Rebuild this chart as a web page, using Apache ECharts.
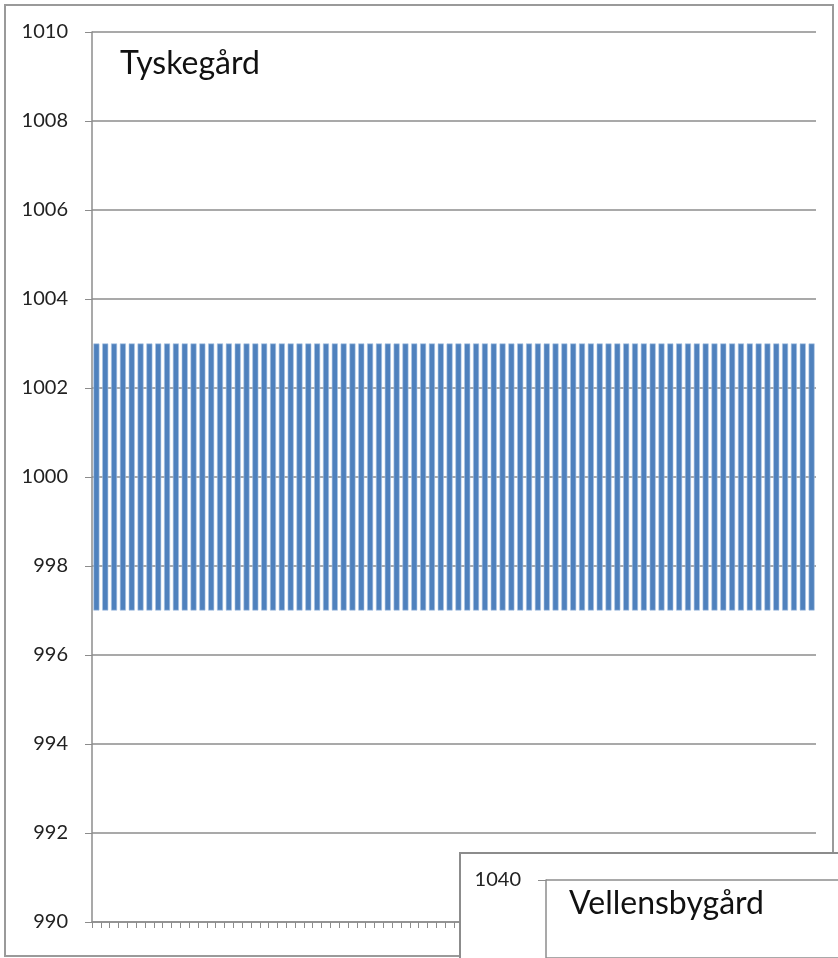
<!DOCTYPE html>
<html>
<head>
<meta charset="utf-8">
<script src="https://cdn.jsdelivr.net/npm/echarts@6/dist/echarts.min.js"></script>
<style>
  html, body { margin: 0; padding: 0; background: #fff; }
  #chart { width: 838px; height: 958px; }
</style>
</head>
<body>
<div id="chart"></div>
<script>
// Tyskegård: 82 floating bars, each spanning 997 -> 1003
const barCount = 82;
const categories = Array.from({ length: barCount }, (_, i) => String(i + 1));
const barLow = new Array(barCount).fill(997);
const barHigh = new Array(barCount).fill(1003);
const yMin = 990, yMax = 1010, yStep = 2;

// Vellensbygård (second chart, only its top corner is visible)
const y2Min = 1030, y2Max = 1040, y2Step = 10;

const barSpan = barHigh.map((h, i) => h - barLow[i]);

const font = 'Lato, "Open Sans", sans-serif';
const plain = v => String(v);
const chart = echarts.init(document.getElementById('chart'));

chart.setOption({
  animation: false,
  backgroundColor: '#fff',
  grid: [
    { left: 92, top: 32, right: 22, height: 890 },
    { left: 546, top: 880, right: -20, height: 82 }
  ],
  xAxis: [
    {
      gridIndex: 0, type: 'category', data: categories,
      axisLine: { lineStyle: { color: '#8c8c8c', width: 1.5 } },
      axisTick: { show: true, length: 6, interval: 0, lineStyle: { color: '#8c8c8c' } },
      axisLabel: { show: false }
    },
    { gridIndex: 1, type: 'value', min: 0, max: 1, show: false }
  ],
  yAxis: [
    {
      gridIndex: 0, type: 'value', min: yMin, max: yMax, interval: yStep,
      axisLine: { show: true, lineStyle: { color: '#8c8c8c', width: 1.5 } },
      axisTick: { show: true, length: 7, lineStyle: { color: '#8c8c8c' } },
      splitLine: { lineStyle: { color: '#8c8c8c', width: 1.5 } },
      axisLabel: { margin: 24, fontSize: 20, color: '#222', fontFamily: font, formatter: plain }
    },
    {
      gridIndex: 1, type: 'value', min: y2Min, max: y2Max, interval: y2Step, z: 30,
      axisLine: { show: true, lineStyle: { color: '#8c8c8c', width: 1.5 } },
      axisTick: { show: true, length: 8, lineStyle: { color: '#8c8c8c' } },
      splitLine: { lineStyle: { color: '#8c8c8c', width: 1.5 } },
      axisLabel: { margin: 25, fontSize: 20, color: '#222', fontFamily: font, formatter: plain,
                   showMinLabel: false }
    }
  ],
  graphic: [
    {
      type: 'rect', z: -1,
      shape: { x: 5, y: 5, width: 828, height: 951 },
      style: { fill: 'none', stroke: '#9a9a9a', lineWidth: 2 }
    },
    {
      type: 'text', left: 120, top: 48, z: 5,
      style: { text: 'Tyskegård', fontSize: 32, fill: '#111', fontFamily: font }
    },
    {
      type: 'rect', z: 20,
      shape: { x: 460, y: 853, width: 400, height: 120 },
      style: { fill: '#fff', stroke: '#8c8c8c', lineWidth: 2 }
    },
    {
      type: 'text', left: 569, top: 888, z: 40,
      style: { text: 'Vellensbygård', fontSize: 32, fill: '#111', fontFamily: font }
    }
  ],
  series: [
    {
      type: 'bar', stack: 'a', data: barLow, xAxisIndex: 0, yAxisIndex: 0,
      itemStyle: { color: 'transparent' }, silent: true,
      barCategoryGap: '32%'
    },
    {
      type: 'bar', stack: 'a', data: barSpan, xAxisIndex: 0, yAxisIndex: 0,
      itemStyle: { color: '#4f81bd', borderColor: '#a9c4e4', borderWidth: 0.6 },
      barCategoryGap: '32%'
    }
  ]
});
</script>
</body>
</html>
